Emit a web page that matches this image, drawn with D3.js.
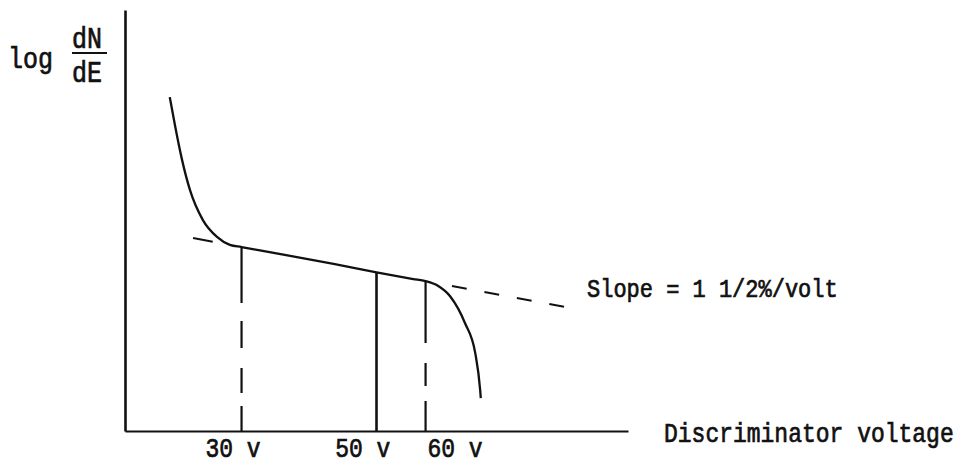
<!DOCTYPE html>
<html>
<head>
<meta charset="utf-8">
<script src="https://cdn.jsdelivr.net/npm/d3@7"></script>
<style>
  html, body { margin: 0; padding: 0; background: #fff; }
  svg { display: block; }
  text { font-family: "Liberation Mono", "Courier New", monospace; fill: #111; stroke: #111; stroke-width: 0.6px; }
</style>
</head>
<body>
<svg id="chart" width="962" height="465"></svg>
<script>
// ---- data ----
// main curve: discriminator voltage (V) vs log dN/dE (arbitrary units)
const curveVolts = [18.3, 19.2, 20.3, 21.6, 23.7, 26.0, 28.1, 30, 33, 45, 52, 58, 60, 62.0, 64.0, 66.4, 68.1, 68.9, 69.0];
const curveLogN  = [7.93, 7.22, 6.44, 5.72, 5.01, 4.61, 4.42, 4.37, 4.29, 3.97, 3.77, 3.61, 3.56, 3.45, 3.20, 2.57, 1.85, 0.97, 0.78];
// straight plateau section and its dashed extrapolations
const plateauVolts = [30, 60];
const plateauLogN  = [4.37, 3.56];
const extLeftVolts  = [22.1, 25.3];
const extRightVolts = [64.3, 83.8];
// vertical marker lines
const markerVolts = [30, 52, 60];
const markerKinds = ["dashed", "solid", "dashed"];
// x tick labels
const tickValues = [30, 50, 60];
const tickLabels = ["30 v", "50 v", "60 v"];
const xDomain = [11, 93];
const yDomain = [0, 10];
const xTitle = "Discriminator voltage";
const slopeNote = "Slope = 1 1/2%/volt";

// ---- drawing ----
const svg = d3.select("#chart");
const ink = "#111";
const x = d3.scaleLinear().domain(xDomain).range([125, 628]);
const y = d3.scaleLinear().domain(yDomain).range([431, 10]);

const slopePerV = (plateauLogN[1] - plateauLogN[0]) / (plateauVolts[1] - plateauVolts[0]);
const plateauAt = v => plateauLogN[0] + slopePerV * (v - plateauVolts[0]);

// axes
const xAxis = svg.append("g").attr("transform", `translate(0,${y(0)})`)
  .call(d3.axisBottom(x).tickValues(tickValues).tickFormat((d, i) => tickLabels[i]).tickSize(0).tickSizeOuter(0));
xAxis.select(".domain").attr("stroke", ink).attr("stroke-width", 2.2);
const labelShift = [-9, -2, 29];
xAxis.selectAll(".tick text")
  .attr("font-family", "Liberation Mono")
  .attr("font-size", 23)
  .attr("fill", ink)
  .attr("dy", null).attr("y", 0)
  .attr("transform", (d, i) => `translate(${labelShift[i]},26) scale(1,1.2)`);

const yAxis = svg.append("g").attr("transform", `translate(${x(xDomain[0])},0)`)
  .call(d3.axisLeft(y).tickValues([]).tickSizeOuter(0));
yAxis.select(".domain").attr("stroke", ink).attr("stroke-width", 2.6);

// vertical markers
svg.append("g").selectAll("line").data(markerVolts).join("line")
  .attr("x1", d => x(d)).attr("x2", d => x(d))
  .attr("y1", y(0)).attr("y2", d => y(plateauAt(d)))
  .attr("stroke", ink)
  .attr("stroke-width", (d, i) => markerKinds[i] === "solid" ? 2.6 : 2.2)
  .attr("stroke-dasharray", (d, i) => markerKinds[i] === "solid" ? null : (i === 0 ? "25,13,25,20,27,18,70" : "30,15,23,20,70"));

// main curve
const line = d3.line().x(d => x(d[0])).y(d => y(d[1])).curve(d3.curveMonotoneX);
svg.append("path")
  .datum(curveVolts.map((v, i) => [v, curveLogN[i]]))
  .attr("d", line)
  .attr("fill", "none").attr("stroke", ink).attr("stroke-width", 2.3);

// dashed extrapolations of the plateau
const straight = d3.line().x(d => x(d)).y(d => y(plateauAt(d)));
svg.append("path").attr("d", straight(extLeftVolts))
  .attr("fill", "none").attr("stroke", ink).attr("stroke-width", 2);
svg.append("path").attr("d", straight(extRightVolts))
  .attr("fill", "none").attr("stroke", ink).attr("stroke-width", 2)
  .attr("stroke-dasharray", "15,18");

// texts
function stretched(sel, tx, ty, size, str) {
  return sel.append("text")
    .attr("transform", `translate(${tx},${ty}) scale(1,1.2)`)
    .attr("font-size", size).text(str);
}
stretched(svg, 587, 297, 22, slopeNote);
stretched(svg, 664, 442, 23, xTitle);

// y label: log dN/dE
stretched(svg, 8, 68, 25, "log");
stretched(svg, 72, 48, 25, "dN");
svg.append("line").attr("x1", 72).attr("x2", 107).attr("y1", 53).attr("y2", 53)
  .attr("stroke", ink).attr("stroke-width", 2);
stretched(svg, 72, 82, 25, "dE");
</script>
</body>
</html>
